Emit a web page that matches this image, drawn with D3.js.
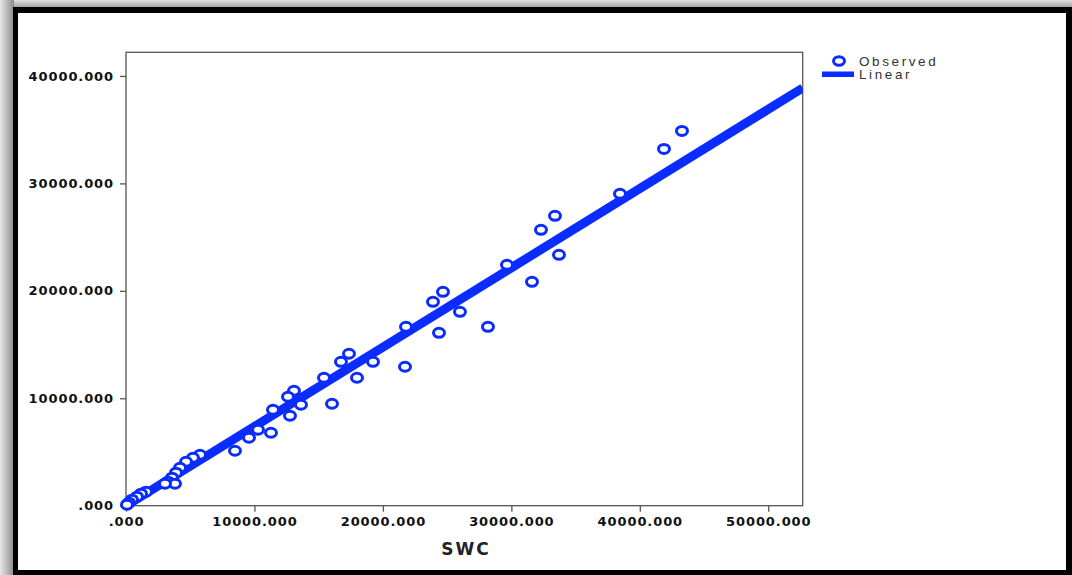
<!DOCTYPE html>
<html><head><meta charset="utf-8">
<script src="https://cdn.jsdelivr.net/npm/d3@7"></script>
<style>
html,body{margin:0;padding:0;background:#fff;}
svg{display:block;}
</style></head>
<body>
<svg id="c" width="1072" height="575"></svg>
<script>
// ---- data ----
const swc = [43282,41881,38456,33396,32306,33707,31605,29659,24677,23899,25997,28180,21797,24366,21719,17359,16736,19228,15413,17982,16036,13078,12611,13623,12767,11443,11288,9575,8485,10276,5761,5216,4671,4204,3892,3581,3270,3814,3036,1557,1168,856,467,234,78];
const observed = [34884,33209,29023,26977,25674,23349,20837,22419,19907,18977,18047,16651,16651,16093,12930,14140,13395,13395,11907,11907,9488,10698,10140,9395,8372,8930,6791,6326,5116,7070,4744,4465,4093,3535,3070,2605,2233,2047,2047,1302,1116,837,558,279,93];
const xTicks = [0,10000,20000,30000,40000,50000];
const yTicks = [0,10000,20000,30000,40000];
const fitIntercept = 0;
const fitSlope = 0.738;
const xMax = 52680, yMax = 42200;
const legendLabels = ["Observed","Linear"];
const xTitle = "SWC";

const svg = d3.select("#c");
const W = 1072, H = 575;
const blue = "#0a2cff";

// shadow / frame
const defs = svg.append("defs");
const g1 = defs.append("linearGradient").attr("id","gl").attr("x1","0").attr("x2","1").attr("y1","0").attr("y2","0");
g1.append("stop").attr("offset","0").attr("stop-color","#e8e8e8");
g1.append("stop").attr("offset","1").attr("stop-color","#8a8a8a");
const g2 = defs.append("linearGradient").attr("id","gt").attr("x1","0").attr("x2","0").attr("y1","0").attr("y2","1");
g2.append("stop").attr("offset","0").attr("stop-color","#e0e0e0");
g2.append("stop").attr("offset","1").attr("stop-color","#9a9a9a");
svg.append("rect").attr("x",0).attr("y",0).attr("width",W).attr("height",H).attr("fill","#c8c8c8");
svg.append("rect").attr("x",0).attr("y",0).attr("width",W).attr("height",8).attr("fill","url(#gt)");
svg.append("rect").attr("x",0).attr("y",0).attr("width",14).attr("height",H).attr("fill","url(#gl)");
svg.append("rect").attr("x",13).attr("y",7).attr("width",1059).attr("height",568).attr("fill","#000");
svg.append("rect").attr("x",18).attr("y",13).attr("width",1048).attr("height",557).attr("fill","#fff");

const L = 126, R = 802.7, T = 52.3, B = 505.7;
const x = d3.scaleLinear().domain([0, xMax]).range([L, R]);
const y = d3.scaleLinear().domain([0, yMax]).range([B, T]);

// plot frame
svg.append("rect").attr("x",L).attr("y",T).attr("width",R-L).attr("height",B-T)
  .attr("fill","none").attr("stroke","#555").attr("stroke-width",1.3);

const fmt = v => v === 0 ? ".000" : v.toFixed(3);
const tickFont = "'DejaVu Sans', sans-serif";

const xa = svg.append("g").attr("transform",`translate(0,${B})`)
  .call(d3.axisBottom(x).tickValues(xTicks).tickFormat(fmt).tickSize(6).tickPadding(3));
const ya = svg.append("g").attr("transform",`translate(${L},0)`)
  .call(d3.axisLeft(y).tickValues(yTicks).tickFormat(fmt).tickSize(6).tickPadding(6));
[xa, ya].forEach(a => {
  a.select(".domain").remove();
  a.selectAll("line").attr("stroke","#555").attr("stroke-width",1.3);
  a.selectAll("text").attr("fill","#111").style("font-family",tickFont)
   .style("font-weight","bold").style("font-size","13px").style("letter-spacing","0.9px");
});
xa.selectAll("text").attr("dy","0.9em");

svg.append("text").attr("x",466).attr("y",555).attr("text-anchor","middle")
  .style("font-family",tickFont).style("font-weight","bold").style("font-size","17px")
  .style("letter-spacing","2px")
  .attr("fill","#222").text(xTitle);

// regression line
const clip = defs.append("clipPath").attr("id","pc");
clip.append("rect").attr("x",L).attr("y",T).attr("width",R-L).attr("height",B-T);
const linePts = [0, xMax].map(v => [v, fitIntercept + fitSlope*v]);
svg.append("path").attr("clip-path","url(#pc)")
  .attr("d", d3.line().x(d=>x(d[0])).y(d=>y(d[1]))(linePts))
  .attr("stroke",blue).attr("stroke-width",9).attr("fill","none");

// observed points
svg.append("g").selectAll("ellipse").data(swc.map((v,i)=>[v,observed[i]])).join("ellipse")
  .attr("cx",d=>x(d[0])).attr("cy",d=>y(d[1])).attr("rx",5.5).attr("ry",4.5)
  .attr("fill","#fff").attr("stroke",blue).attr("stroke-width",3);

// legend
const lg = svg.append("g");
lg.append("ellipse").attr("cx",839).attr("cy",61).attr("rx",5.5).attr("ry",4.2)
  .attr("fill","#fff").attr("stroke",blue).attr("stroke-width",3);
lg.append("rect").attr("x",822).attr("y",71.5).attr("width",32).attr("height",5.5).attr("fill",blue);
lg.selectAll("text").data(legendLabels).join("text")
  .attr("x",859).attr("y",(d,i)=>66+i*13)
  .style("font-family","'Liberation Sans', Arial, sans-serif").style("font-size","13.5px")
  .style("letter-spacing","2.6px").attr("fill","#333").text(d=>d);
</script>
</body></html>
